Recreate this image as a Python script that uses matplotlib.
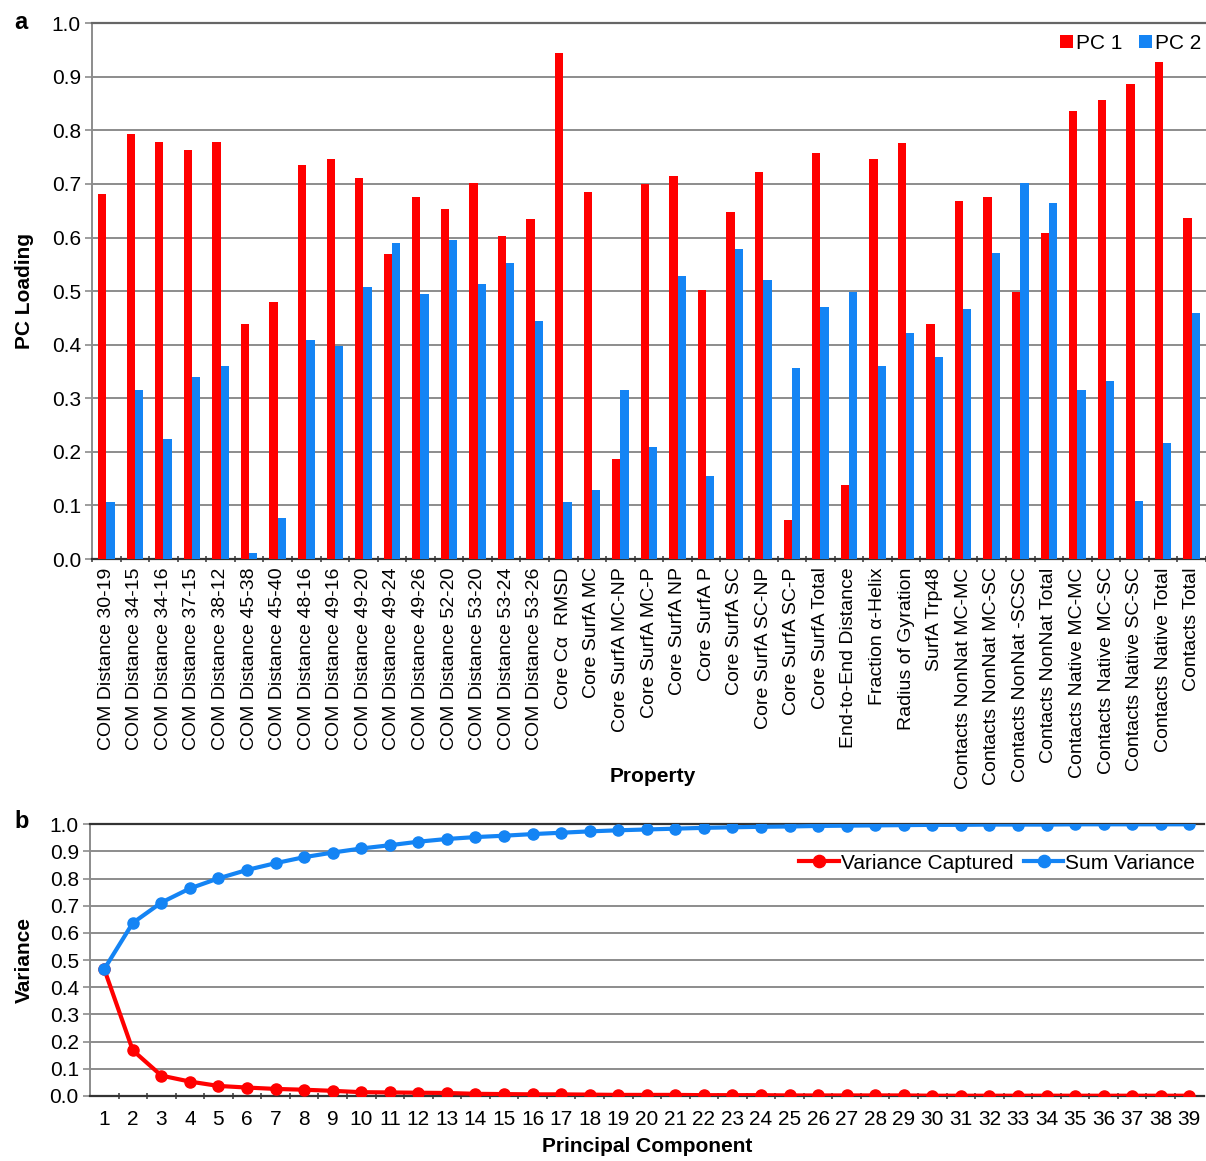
import matplotlib
matplotlib.use("Agg")
import matplotlib.pyplot as plt
import numpy as np
from matplotlib.ticker import FixedLocator

plt.rcParams['font.family'] = ['Liberation Sans', 'DejaVu Sans']

# ---- Panel a: loadings of each property on the first two PCs ----
properties = [
    "COM Distance 30-19", "COM Distance 34-15", "COM Distance 34-16",
    "COM Distance 37-15", "COM Distance 38-12", "COM Distance 45-38",
    "COM Distance 45-40", "COM Distance 48-16", "COM Distance 49-16",
    "COM Distance 49-20", "COM Distance 49-24", "COM Distance 49-26",
    "COM Distance 52-20", "COM Distance 53-20", "COM Distance 53-24",
    "COM Distance 53-26", "Core Cα  RMSD", "Core SurfA MC",
    "Core SurfA MC-NP", "Core SurfA MC-P", "Core SurfA NP", "Core SurfA P",
    "Core SurfA SC", "Core SurfA SC-NP", "Core SurfA SC-P", "Core SurfA Total",
    "End-to-End Distance", "Fraction α-Helix", "Radius of Gyration",
    "SurfA Trp48", "Contacts NonNat MC-MC", "Contacts NonNat MC-SC",
    "Contacts NonNat -SCSC", "Contacts NonNat Total", "Contacts Native MC-MC",
    "Contacts Native MC-SC", "Contacts Native SC-SC", "Contacts Native Total",
    "Contacts Total",
]
pc1 = [0.682, 0.794, 0.778, 0.764, 0.778, 0.439, 0.480, 0.736, 0.746, 0.712,
       0.569, 0.675, 0.654, 0.702, 0.602, 0.634, 0.945, 0.685, 0.186, 0.699,
       0.715, 0.503, 0.647, 0.723, 0.073, 0.757, 0.138, 0.747, 0.777, 0.438,
       0.668, 0.675, 0.499, 0.609, 0.836, 0.856, 0.887, 0.928, 0.637]
pc2 = [0.107, 0.316, 0.224, 0.340, 0.361, 0.012, 0.077, 0.408, 0.398, 0.508,
       0.589, 0.494, 0.596, 0.514, 0.552, 0.445, 0.107, 0.128, 0.316, 0.210,
       0.528, 0.155, 0.578, 0.521, 0.357, 0.470, 0.499, 0.361, 0.422, 0.377,
       0.466, 0.572, 0.702, 0.664, 0.316, 0.333, 0.108, 0.217, 0.459]

# ---- Panel b: variance explained per principal component ----
components = list(range(1, 40))
variance_captured = [0.467, 0.168, 0.075, 0.053, 0.037, 0.031, 0.026, 0.023,
                     0.019, 0.014, 0.013, 0.012, 0.011, 0.008, 0.007, 0.006,
                     0.006, 0.005, 0.004, 0.004, 0.004, 0.003, 0.003, 0.003,
                     0.002, 0.002, 0.002, 0.002, 0.002, 0.001, 0.001, 0.001,
                     0.001, 0.001, 0.001, 0.001, 0.001, 0.001, 0.001]
sum_variance = [0.467, 0.637, 0.712, 0.764, 0.801, 0.832, 0.857, 0.879, 0.896,
                0.911, 0.923, 0.936, 0.946, 0.953, 0.958, 0.964, 0.969, 0.974,
                0.978, 0.981, 0.984, 0.987, 0.989, 0.991, 0.992, 0.994, 0.995,
                0.996, 0.997, 0.998, 0.998, 0.999, 0.999, 0.999, 1.000, 1.000,
                1.000, 1.000, 1.000]

yticks = [round(v, 1) for v in np.arange(0, 1.01, 0.1)]
ytick_labels = [f"{v:.1f}" for v in yticks]

RED = "#ff0000"
BLUE = "#1484f4"
GRID = "#8c8c8c"
TICK_FS = 15
CAT_FS = 14
LABEL_FS = 15

fig = plt.figure(figsize=(12.06, 11.61), dpi=100)

# ---------------- panel a ----------------
ax = fig.add_axes([0.0763, 0.5185, 0.9237, 0.4615])
x = np.arange(len(properties))
w = 0.29
ax.bar(x - w / 2, pc1, width=w, color=RED, label="PC 1", zorder=3)
ax.bar(x + w / 2, pc2, width=w, color=BLUE, label="PC 2", zorder=3)
ax.set_xlim(-0.5, len(properties) - 0.5)
ax.set_ylim(0, 1.0)
ax.yaxis.set_major_locator(FixedLocator(yticks))
ax.set_yticklabels(ytick_labels)
ax.grid(axis="y", color=GRID, linewidth=1.4, zorder=0)
ax.set_xticks(x)
ax.set_xticklabels(properties, rotation=90, fontsize=CAT_FS)
ax.set_xticks(np.arange(-0.5, len(properties), 1.0), minor=True)
ax.tick_params(axis="x", which="major", length=0, pad=6)
ax.tick_params(axis="x", which="minor", length=5, width=1.2, color="#444444", direction="inout")
ax.tick_params(axis="y", labelsize=TICK_FS, length=5, width=1.2, color=GRID, pad=3)
ax.spines["right"].set_visible(False)
ax.spines["top"].set_color("#666666")
ax.spines["top"].set_linewidth(1.6)
ax.spines["left"].set_color(GRID)
ax.spines["left"].set_linewidth(1.4)
ax.spines["bottom"].set_color("#333333")
ax.spines["bottom"].set_linewidth(1.6)
ax.set_ylabel("PC Loading", fontsize=LABEL_FS, fontweight="bold")
ax.yaxis.set_label_coords(-0.052, 0.5)
ax.text(0.503, -0.405, "Property", transform=ax.transAxes, ha="center",
        va="center", fontsize=LABEL_FS, fontweight="bold")
ax.legend(loc="center right", bbox_to_anchor=(1.003, 0.963), ncol=2,
          frameon=False, fontsize=TICK_FS, handlelength=0.6, handleheight=0.6,
          handletextpad=0.15, columnspacing=0.8, borderaxespad=0)
fig.text(0.012, 0.981, "a", fontsize=17, fontweight="bold", va="center")

# ---------------- panel b ----------------
bx = fig.add_axes([0.0746, 0.056, 0.9234, 0.234])
bx.plot(components, variance_captured, color=RED, linewidth=3, marker="o",
        markersize=8, label="Variance Captured", zorder=3)
bx.plot(components, sum_variance, color=BLUE, linewidth=3, marker="o",
        markersize=8, label="Sum Variance", zorder=4)
bx.set_xlim(0.5, 39.5)
bx.set_ylim(0, 1.0)
bx.yaxis.set_major_locator(FixedLocator(yticks))
bx.set_yticklabels(ytick_labels)
bx.grid(axis="y", color=GRID, linewidth=1.4, zorder=0)
bx.set_xticks(components)
bx.set_xticklabels([str(c) for c in components], fontsize=TICK_FS)
bx.set_xticks(np.arange(1.5, 39.5, 1.0), minor=True)
bx.tick_params(axis="x", which="major", length=0, pad=10)
bx.tick_params(axis="x", which="minor", length=5, width=1.2, color="#444444", direction="inout")
bx.tick_params(axis="y", labelsize=TICK_FS, length=5, width=1.2, color=GRID, pad=3)
bx.spines["right"].set_visible(False)
bx.spines["top"].set_color("#333333")
bx.spines["top"].set_linewidth(1.6)
bx.spines["left"].set_color(GRID)
bx.spines["left"].set_linewidth(1.4)
bx.spines["bottom"].set_color("#333333")
bx.spines["bottom"].set_linewidth(1.6)
bx.set_ylabel("Variance", fontsize=LABEL_FS, fontweight="bold")
bx.yaxis.set_label_coords(-0.050, 0.5)
bx.set_xlabel("Principal Component", fontsize=LABEL_FS, fontweight="bold", labelpad=6)
bx.legend(loc="center right", bbox_to_anchor=(1.0, 0.857), ncol=2,
          frameon=False, fontsize=TICK_FS, handlelength=1.9, handletextpad=0.1,
          columnspacing=0.5, borderaxespad=0, markerscale=1.1)
fig.text(0.012, 0.292, "b", fontsize=17, fontweight="bold", va="center")

fig.savefig("out.png", dpi=100, facecolor="white")
